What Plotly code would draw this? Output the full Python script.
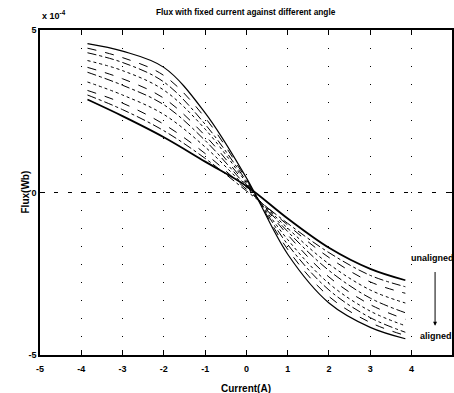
import plotly.graph_objects as go

# Current sample points (A)
current = [-3.85, -3, -2, -1, 0, 1, 2, 3, 3.85]

# Flux (x 1e-4 Wb) for each rotor angle, from aligned to unaligned
flux_a0 = [4.58, 4.35, 3.85, 2.45, 0.45, -1.9, -3.4, -4.15, -4.5]
flux_a1 = [4.44, 4.15, 3.6, 2.3, 0.4, -1.75, -3.2, -4.0, -4.4]
flux_a2 = [4.3, 4.0, 3.4, 2.1, 0.35, -1.6, -3.0, -3.85, -4.3]
flux_a3 = [4.06, 3.75, 3.15, 1.95, 0.3, -1.45, -2.8, -3.65, -4.1]
flux_a4 = [3.85, 3.5, 2.9, 1.75, 0.25, -1.3, -2.6, -3.45, -3.9]
flux_a5 = [3.7, 3.3, 2.7, 1.6, 0.2, -1.2, -2.4, -3.25, -3.7]
flux_a6 = [3.4, 3.0, 2.4, 1.4, 0.15, -1.1, -2.2, -3.0, -3.4]
flux_a7 = [3.14, 2.75, 2.1, 1.2, 0.1, -1.0, -2.0, -2.75, -3.1]
flux_a8 = [3.0, 2.55, 1.9, 1.05, 0.05, -0.95, -1.85, -2.55, -2.9]
flux_a9 = [2.86, 2.35, 1.7, 0.95, 0.2, -0.8, -1.7, -2.35, -2.7]

series = [flux_a0, flux_a1, flux_a2, flux_a3, flux_a4,
          flux_a5, flux_a6, flux_a7, flux_a8, flux_a9]
dashes = ["solid", "dash", "dashdot", "dot", "dash",
          "dashdot", "dot", "dash", "dashdot", "solid"]
widths = [1.2, 1, 1, 1, 1, 1, 1, 1, 1, 1.8]

xticks = [-5, -4, -3, -2, -1, 0, 1, 2, 3, 4]
yticks = [-5, 0, 5]

fig = go.Figure()
for ys, d, w in zip(series, dashes, widths):
    fig.add_trace(go.Scatter(x=current, y=ys, mode="lines",
                             line=dict(color="black", width=w, dash=d, shape="spline"),
                             showlegend=False))

tickf = dict(family="Liberation Sans, Arial", size=9, color="black", weight="bold")
fig.update_layout(
    width=454, height=393,
    margin=dict(l=40, r=0, t=30, b=38),
    paper_bgcolor="white", plot_bgcolor="white",
    font=dict(family="Liberation Sans, Arial", size=9, color="black"),
    xaxis=dict(range=[-5, 4.98], tickvals=xticks, ticktext=[str(v) for v in xticks],
               showgrid=True, gridcolor="black", gridwidth=1, griddash="1px,17px",
               showline=True, linecolor="black", linewidth=1.5, mirror="ticks",
               ticks="inside", ticklen=5, tickcolor="black", zeroline=False,
               ticklabelstandoff=4, tickfont=tickf),
    yaxis=dict(range=[-5, 5], tickvals=yticks, ticktext=["-5", "0", "5"],
               showgrid=True, gridcolor="black", gridwidth=1, griddash="4px,10px",
               showline=True, linecolor="black", linewidth=1.5, mirror="ticks",
               ticks="inside", ticklen=5, tickcolor="black", zeroline=False,
               tickfont=tickf),
)

title_f = dict(family="Liberation Sans, Arial", size=8.3, color="black", weight="bold")
axis_f = dict(family="Liberation Sans, Arial", size=10, color="black", weight="bold")
bold = dict(family="Liberation Sans, Arial", size=9, color="black", weight="bold")
fig.add_annotation(text="Flux with fixed current against different angle", xref="paper", yref="paper",
                   x=0.5, y=1, yshift=18, showarrow=False, font=title_f, xanchor="center", yanchor="middle")
fig.add_annotation(text="x 10<sup>-4</sup>", xref="paper", yref="paper", x=0, y=1, yshift=15,
                   showarrow=False, font=bold, xanchor="left", yanchor="middle")
fig.add_annotation(text="Current(A)", xref="paper", yref="paper", x=0.5, y=0, yshift=-33,
                   showarrow=False, font=axis_f, xanchor="center", yanchor="middle")
fig.add_annotation(text="Flux(Wb)", xref="paper", yref="paper", x=0, xshift=-15, y=0.5,
                   textangle=-90, showarrow=False, font=axis_f, xanchor="center", yanchor="middle")
fig.add_annotation(text="unaligned", x=4.5, y=-2.0, showarrow=False, font=bold)
fig.add_annotation(text="aligned", x=4.6, y=-4.4, showarrow=False, font=bold)
fig.add_annotation(x=4.57, y=-4.1, ax=4.57, ay=-2.4, axref="x", ayref="y", xref="x", yref="y",
                   text="", showarrow=True, arrowhead=2, arrowsize=0.8, arrowwidth=1, arrowcolor="black")

fig.write_html("out.html")
